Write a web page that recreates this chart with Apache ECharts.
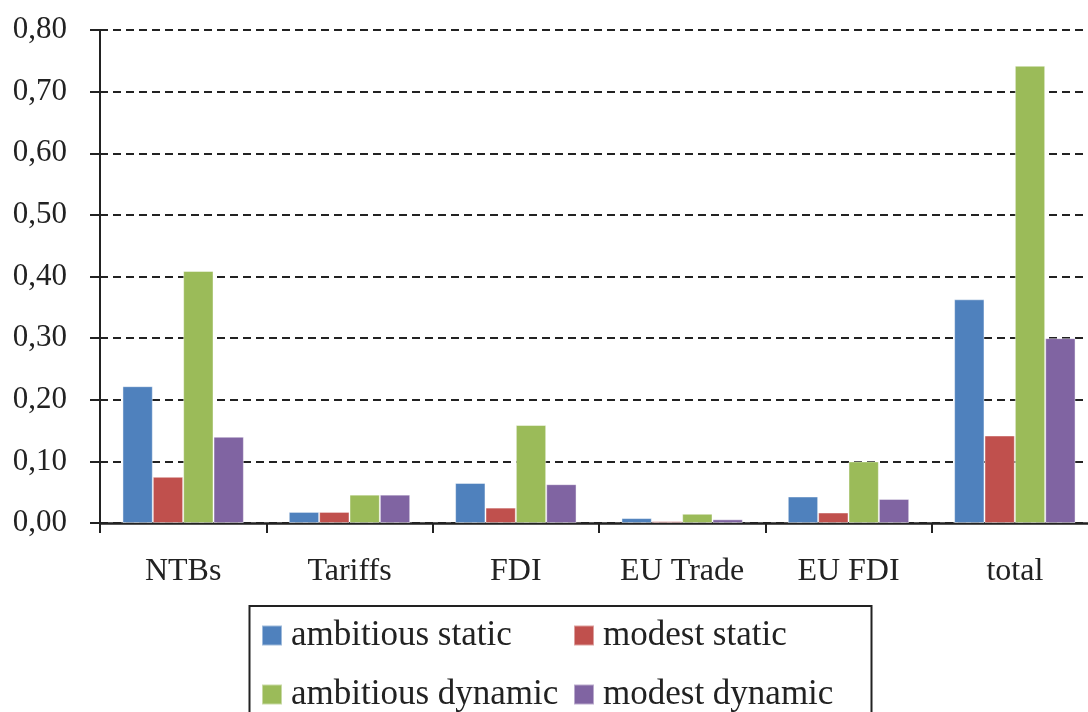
<!DOCTYPE html>
<html>
<head>
<meta charset="utf-8">
<script src="https://cdn.jsdelivr.net/npm/echarts@6/dist/echarts.min.js"></script>
<style>
html,body{margin:0;padding:0;background:#fff;overflow:hidden;width:1088px;height:712px;}
#chart{width:1100px;height:760px;}
</style>
</head>
<body>
<div id="chart"></div>
<script>
const categories = ['NTBs', 'Tariffs', 'FDI', 'EU Trade', 'EU FDI', 'total'];
const ambitiousStatic = [0.222, 0.018, 0.065, 0.008, 0.043, 0.363];
const modestStatic = [0.075, 0.018, 0.025, 0.003, 0.017, 0.142];
const ambitiousDynamic = [0.409, 0.046, 0.159, 0.015, 0.100, 0.742];
const modestDynamic = [0.140, 0.046, 0.063, 0.006, 0.039, 0.300];
const seriesNames = ['ambitious static', 'modest static', 'ambitious dynamic', 'modest dynamic'];
const yTickLabels = ['0,00', '0,10', '0,20', '0,30', '0,40', '0,50', '0,60', '0,70', '0,80'];

const colors = ['#4F81BD', '#C0504D', '#9BBB59', '#8064A2'];
const serif = '"Liberation Serif", "DejaVu Serif", serif';
const values = [ambitiousStatic, modestStatic, ambitiousDynamic, modestDynamic];

const chart = echarts.init(document.getElementById('chart'), null, {renderer: 'canvas'});

const legendText = {fontFamily: serif, fontSize: 35, color: '#222', lineHeight: 35, padding: [0, 0, 0, 4]};

chart.setOption({
  animation: false,
  color: colors,
  grid: {left: 100, right: 2, top: 30, bottom: 237, containLabel: false},
  legend: [
    {
      orient: 'vertical', left: 261, top: 618, padding: 0,
      itemWidth: 20, itemHeight: 20, itemGap: 24,
      icon: 'rect', data: [seriesNames[0], seriesNames[2]],
      textStyle: legendText
    },
    {
      orient: 'vertical', left: 573, top: 618, padding: 0,
      itemWidth: 20, itemHeight: 20, itemGap: 24,
      icon: 'rect', data: [seriesNames[1], seriesNames[3]],
      textStyle: legendText
    }
  ],
  graphic: [{
    type: 'rect',
    shape: {x: 249.5, y: 606, width: 622, height: 130},
    style: {fill: 'none', stroke: '#222', lineWidth: 2},
    silent: true
  }],
  xAxis: {
    type: 'category',
    data: categories,
    axisLine: {lineStyle: {color: '#222', width: 2.5}},
    axisTick: {show: true, length: 10, lineStyle: {color: '#222', width: 2}},
    axisLabel: {fontFamily: serif, fontSize: 32, color: '#222', margin: 33, lineHeight: 32}
  },
  yAxis: {
    type: 'value',
    min: 0, max: 0.8, interval: 0.1,
    axisLine: {show: true, lineStyle: {color: '#222', width: 2}},
    axisTick: {show: true, length: 10, lineStyle: {color: '#222', width: 2}},
    axisLabel: {
      fontFamily: serif, fontSize: 31, color: '#222', margin: 33,
      formatter: function (v) { return yTickLabels[Math.round(v * 10)]; }
    },
    splitLine: {show: true, lineStyle: {color: '#222', width: 1.8, type: [8, 5]}}
  },
  series: seriesNames.map(function (name, i) {
    return {
      name: name,
      type: 'bar',
      data: values[i],
      barGap: 0,
      barCategoryGap: '27%',
      itemStyle: {color: colors[i], borderColor: 'rgba(255,255,255,0.45)', borderWidth: 1}
    };
  })
});
</script>
</body>
</html>
